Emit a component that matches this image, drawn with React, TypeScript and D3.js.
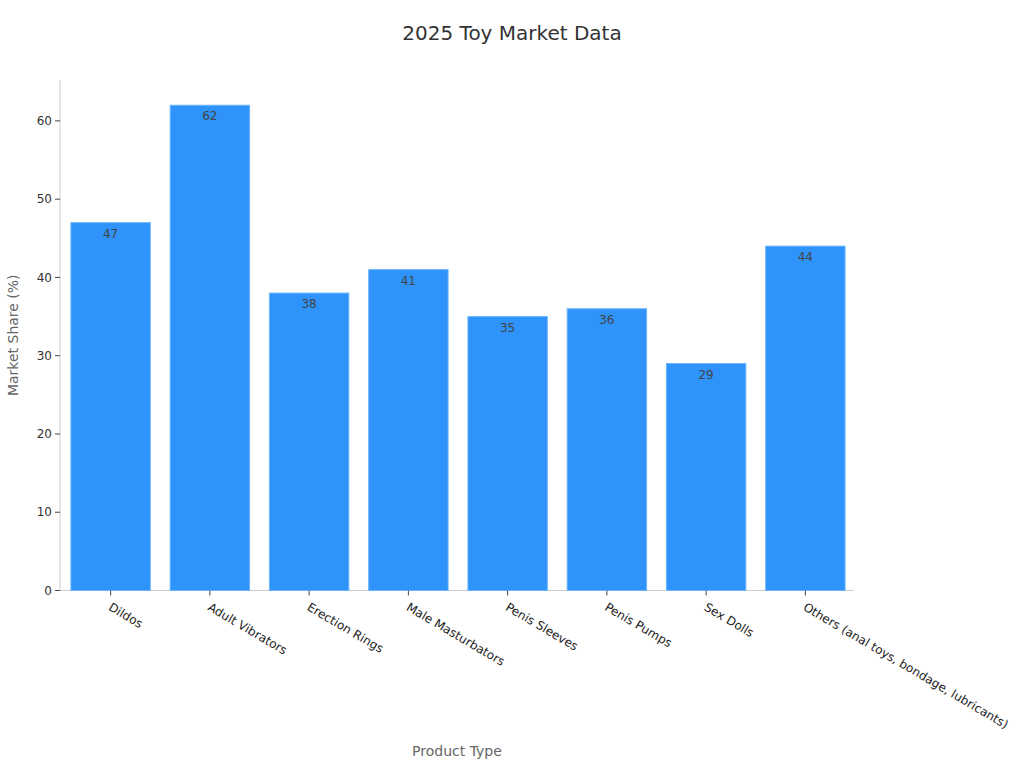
import React from "react";
import * as d3 from "d3";

const categories = [
  "Dildos",
  "Adult Vibrators",
  "Erection Rings",
  "Male Masturbators",
  "Penis Sleeves",
  "Penis Pumps",
  "Sex Dolls",
  "Others (anal toys, bondage, lubricants)",
];
const values = [47, 62, 38, 41, 35, 36, 29, 44];
const yTicks = [0, 10, 20, 30, 40, 50, 60];

const W = 1024;
const H = 768;
const left = 60;
const right = 854;
const top = 80;
const bottom = 590.5;
const font = "DejaVu Sans, sans-serif";

export default function App() {
  const x = d3.scaleBand<string>().domain(categories).range([left + 1, right + 1]).paddingInner(0.2).paddingOuter(0.1);
  const y = d3.scaleLinear().domain([0, 62 * 1.052]).range([bottom, top]);
  return (
    <svg width={W} height={H} style={{ position: "absolute", left: 0, top: 0 }} fontFamily={font}>
      <rect width={W} height={H} fill="#fff" />
      <text x={512} y={40} textAnchor="middle" fontSize={20} fill="#333">2025 Toy Market Data</text>
      <line x1={left} x2={left} y1={top} y2={bottom} stroke="#ccc" />
      <line x1={left} x2={right} y1={bottom} y2={bottom} stroke="#ccc" />
      {yTicks.map((t) => (
        <g key={t}>
          <line x1={left - 5} x2={left} y1={y(t)} y2={y(t)} stroke="#444" />
          <text x={left - 8} y={y(t)} dy="0.35em" textAnchor="end" fontSize={12} fill="#333">{t}</text>
        </g>
      ))}
      {categories.map((c, i) => {
        const bx = x(c)!;
        const cx = bx + x.bandwidth() / 2;
        return (
          <g key={c}>
            <rect x={bx} y={y(values[i])} width={x.bandwidth()} height={bottom - y(values[i])} fill="#2e93fa" stroke="#6cb4fb" strokeWidth={1} />
            <text x={cx} y={y(values[i]) + 15} textAnchor="middle" fontSize={12} fill="#444">{values[i]}</text>
            <line x1={cx} x2={cx} y1={bottom} y2={bottom + 5} stroke="#444" />
            <text transform={`translate(${cx - 3},${bottom + 19}) rotate(30.5)`} fontSize={12} fill="#222">{c}</text>
          </g>
        );
      })}
      <text x={(left + right) / 2} y={756} textAnchor="middle" fontSize={14} fill="#666">Product Type</text>
      <text transform={`translate(18,${(top + bottom) / 2}) rotate(-90)`} textAnchor="middle" fontSize={14} fill="#666">Market Share (%)</text>
    </svg>
  );
}
